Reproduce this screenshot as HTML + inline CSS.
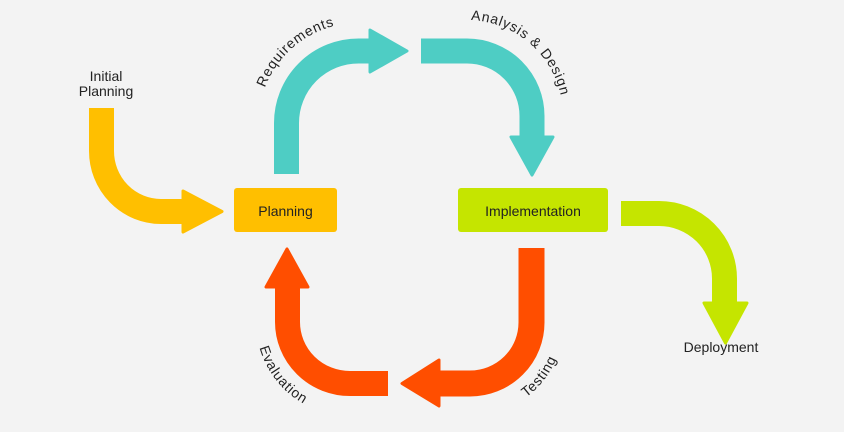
<!DOCTYPE html>
<html><head><meta charset="utf-8"><style>
html,body{margin:0;padding:0;background:#f3f3f3;}
svg{display:block;font-family:"Liberation Sans",sans-serif;}
</style></head><body>
<svg width="844" height="432" viewBox="0 0 844 432" xmlns="http://www.w3.org/2000/svg">
<rect width="844" height="432" fill="#f3f3f3"/>
<defs>
<path id="pReq" d="M258.5,123 A100,100 0 0 1 358.5,23"/>
<path id="pAna" d="M467,20 A96,96 0 0 1 563,116"/>
<path id="pTest" d="M470,416 A94,94 0 0 0 564,322"/>
<path id="pEval" d="M256,322 A94,94 0 0 0 350,416"/>
</defs>
<!-- yellow -->
<path d="M101.5,108 V151 A59.5,60.5 0 0 0 161,211.5 H184" fill="none" stroke="#FFBF00" stroke-width="25"/>
<polygon points="183,191 222,211.5 183,232" fill="#FFBF00" stroke="#FFBF00" stroke-width="3" stroke-linejoin="round"/>
<rect x="234" y="188" width="103" height="44" rx="3" fill="#FFBF00"/>
<text x="285.5" y="216" font-size="14" text-anchor="middle" fill="#222">Planning</text>
<!-- teal -->
<path d="M286.5,174 V123 A72,72 0 0 1 358.5,51 H371" fill="none" stroke="#4ECDC4" stroke-width="25"/>
<polygon points="370,30 407,51 370,72" fill="#4ECDC4" stroke="#4ECDC4" stroke-width="3" stroke-linejoin="round"/>
<path d="M421,51 H467 A65,65 0 0 1 532,116 V138" fill="none" stroke="#4ECDC4" stroke-width="25"/>
<polygon points="511,137 553,137 532,175" fill="#4ECDC4" stroke="#4ECDC4" stroke-width="3" stroke-linejoin="round"/>
<!-- implementation -->
<rect x="458" y="188" width="150" height="44" rx="3" fill="#C5E500"/>
<text x="533" y="216" font-size="14" text-anchor="middle" fill="#222">Implementation</text>
<!-- green -->
<path d="M621,213.5 H659 A65.5,65 0 0 1 724.5,278.5 V304" fill="none" stroke="#C5E500" stroke-width="25"/>
<polygon points="704,303 747,303 725.5,343" fill="#C5E500" stroke="#C5E500" stroke-width="3" stroke-linejoin="round"/>
<!-- red -->
<path d="M531.5,248 V322 A61.5,61 0 0 1 470,383.5 H438" fill="none" stroke="#FF4E00" stroke-width="26"/>
<polygon points="439,360 402,383.5 439,406" fill="#FF4E00" stroke="#FF4E00" stroke-width="3" stroke-linejoin="round"/>
<path d="M388,383.5 H350 A62.5,61.5 0 0 1 287.5,322 V286" fill="none" stroke="#FF4E00" stroke-width="25"/>
<polygon points="266,287 308,287 287,249" fill="#FF4E00" stroke="#FF4E00" stroke-width="3" stroke-linejoin="round"/>
<!-- labels -->
<text x="106" y="81" font-size="14" text-anchor="middle" fill="#222">Initial</text>
<text x="106" y="96" font-size="14" text-anchor="middle" fill="#222">Planning</text>
<text x="721" y="352" font-size="14" text-anchor="middle" fill="#222">Deployment</text>
<g font-size="14" fill="#222" letter-spacing="0.8">
<text><textPath href="#pReq" startOffset="36">Requirements</textPath></text>
<text><textPath href="#pAna" startOffset="4">Analysis &amp; Design</textPath></text>
<text><textPath href="#pTest" startOffset="60" dy="10">Testing</textPath></text>
<text><textPath href="#pEval" startOffset="26" dy="10">Evaluation</textPath></text>
</g>
</svg>
</body></html>
